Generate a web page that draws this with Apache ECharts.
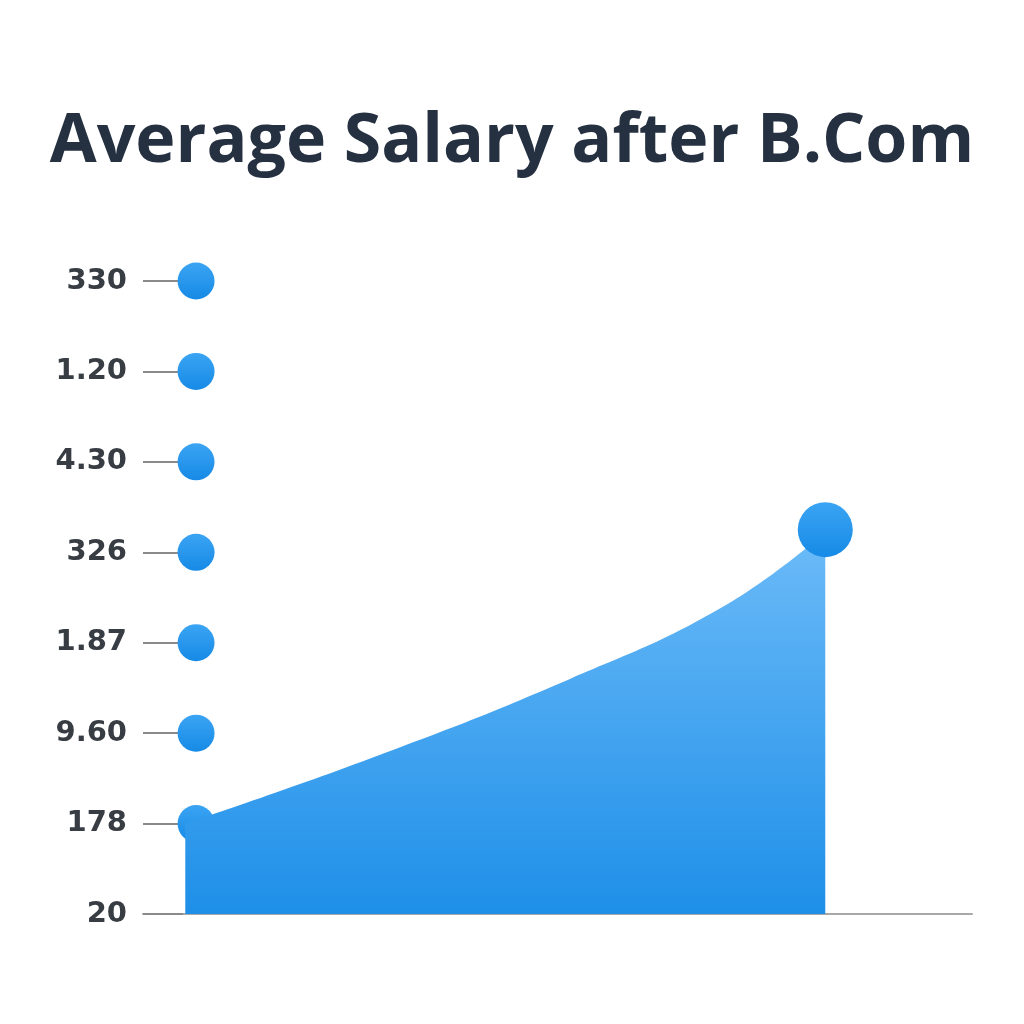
<!DOCTYPE html>
<html>
<head>
<meta charset="utf-8">
<script src="https://cdn.jsdelivr.net/npm/echarts@6/dist/echarts.min.js"></script>
<style>html,body{margin:0;padding:0;background:#fff}#chart{width:1024px;height:1024px}</style>
</head>
<body>
<div id="chart"></div>
<script>
// Tick labels, bottom to top, as printed in the reference
var tickLabels = ["20", "178", "9.60", "1.87", "326", "4.30", "1.20", "330"];
// Marker dots sitting on each tick level
var dotLevels = [1, 2, 3, 4, 5, 6, 7];
var dotPosition = 6.4;
// Area curve (position along x, level on the y scale)
var curveX = [5.1, 27.4, 51.5, 70.0, 82.3];
var curveY = [1.0, 1.72, 2.60, 3.40, 4.22];

var chart = echarts.init(document.getElementById('chart'));
var curveData = curveX.map(function (x, i) { return [x, curveY[i]]; });
var dotData = dotLevels.map(function (l) { return [dotPosition, l]; });
var endPoint = [[curveX[curveX.length - 1], curveY[curveY.length - 1] + 0.03]];
var dotColor = new echarts.graphic.LinearGradient(0, 0, 0, 1, [
  { offset: 0, color: '#3ba4f3' }, { offset: 1, color: '#168ae6' }]);

chart.setOption({
  backgroundColor: '#ffffff',
  animation: false,
  title: {
    text: 'Average Salary after B.Com',
    left: 'center',
    top: 104,
    textStyle: { fontFamily: 'Open Sans', fontWeight: 'bold', fontSize: 68, color: '#253040' }
  },
  grid: { left: 143, right: 52, top: 281, bottom: 110 },
  xAxis: {
    type: 'value', min: 0, max: 100,
    axisLine: { show: true, lineStyle: { color: '#a8a8a8', width: 2 } },
    axisTick: { show: false }, axisLabel: { show: false }, splitLine: { show: false }
  },
  yAxis: {
    type: 'value', min: 0, max: 7, interval: 1,
    axisLine: { show: false },
    axisTick: { show: true, inside: true, length: 40, lineStyle: { color: '#8a8a8a', width: 2 } },
    splitLine: { show: false },
    axisLabel: {
      margin: 16,
      fontFamily: 'DejaVu Sans', fontWeight: 'bold', fontSize: 29, color: '#383d44',
      formatter: function (v) { return tickLabels[v] !== undefined ? tickLabels[v] : ''; }
    }
  },
  series: [
    {
      type: 'scatter', data: dotData, symbolSize: 37, z: 3,
      itemStyle: { color: dotColor, opacity: 1 }
    },
    {
      type: 'line', data: curveData, smooth: 0.45, symbol: 'none', z: 4,
      lineStyle: { width: 0 },
      areaStyle: {
        opacity: 1,
        color: new echarts.graphic.LinearGradient(0, 0, 0, 1, [
          { offset: 0, color: '#6cbbf8' }, { offset: 1, color: '#1e8fe8' }])
      }
    },
    {
      type: 'scatter', data: endPoint, symbolSize: 55, z: 5,
      itemStyle: { color: dotColor, opacity: 1 }
    }
  ]
});
</script>
</body>
</html>
